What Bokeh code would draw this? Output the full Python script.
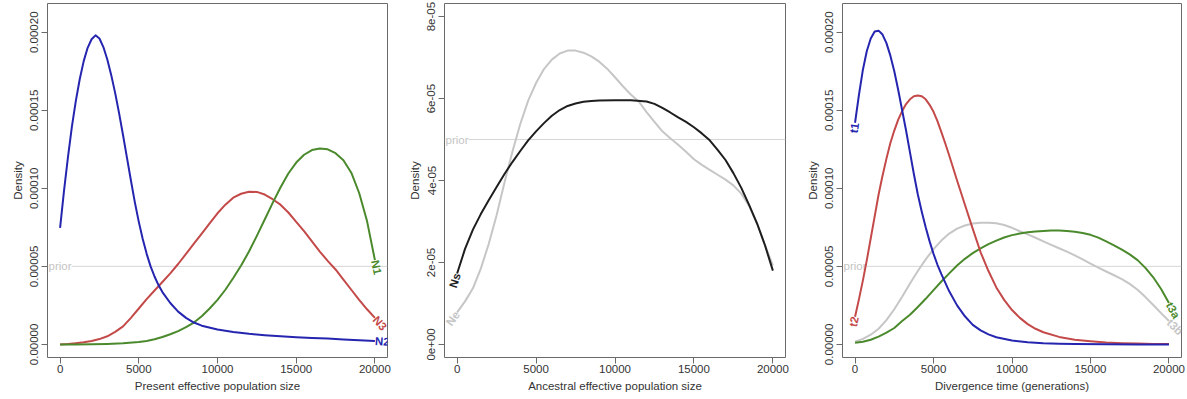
import math
from bokeh.plotting import figure
from bokeh.layouts import row
from bokeh.models import Range1d, FixedTicker, CustomJSTickFormatter, Span, Label, ColumnDataSource
from bokeh.core.properties import value
from bokeh.embed import file_html
from bokeh.resources import INLINE

S = 1e-5  # values below are in units of 1e-5
PRIOR = 5e-5

# ---------------- Panel 1: present effective population size ----------------
n2_x = [0, 250, 500, 750, 1000, 1250, 1500, 1750, 2000, 2250, 2500, 2750, 3000, 3250, 3500, 3750,
        4000, 4250, 4500, 4750, 5000, 5250, 5500, 5750, 6000, 6250, 6500, 7000, 7500, 8000, 8500,
        9000, 10000, 11000, 12000, 13000, 14000, 15000, 16000, 17000, 18000, 19000, 20000]
n2_y = [7.46, 9.85, 12.0, 13.95, 15.6, 17.0, 18.15, 19.0, 19.55, 19.8, 19.6, 19.05, 18.25, 17.25, 16.1, 14.8,
        13.4, 11.95, 10.5, 9.1, 7.85, 6.75, 5.8, 5.0, 4.35, 3.8, 3.35, 2.65, 2.1, 1.7, 1.4,
        1.2, 0.95, 0.8, 0.68, 0.59, 0.52, 0.46, 0.41, 0.37, 0.32, 0.27, 0.21]

n3_x = [0, 500, 1000, 1500, 2000, 2500, 3000, 3500, 4000, 4500, 5000, 5500, 6000, 6500, 7000, 7500,
        8000, 8500, 9000, 9500, 10000, 10500, 11000, 11500, 12000, 12500, 13000, 13500, 14000, 14500,
        15000, 15500, 16000, 16500, 17000, 17500, 18000, 18500, 19000, 19500, 20000]
n3_y = [0.0, 0.03, 0.08, 0.14, 0.22, 0.34, 0.52, 0.8, 1.15, 1.7, 2.3, 2.9, 3.45, 4.0, 4.55, 5.15,
        5.8, 6.45, 7.1, 7.75, 8.4, 8.95, 9.4, 9.65, 9.78, 9.77, 9.6, 9.3, 8.95, 8.45,
        7.85, 7.25, 6.6, 5.95, 5.35, 4.8, 4.15, 3.5, 2.85, 2.25, 1.7]

n1_x = [0, 1000, 2000, 3000, 4000, 5000, 5500, 6000, 6500, 7000, 7500, 8000, 8500, 9000, 9500, 10000,
        10500, 11000, 11500, 12000, 12500, 13000, 13500, 14000, 14500, 15000, 15500, 16000, 16500,
        17000, 17500, 18000, 18500, 19000, 19500, 20000]
n1_y = [0.0, 0.0, 0.01, 0.03, 0.07, 0.15, 0.22, 0.33, 0.47, 0.65, 0.85, 1.1, 1.4, 1.8, 2.3, 2.85,
        3.5, 4.25, 5.05, 5.95, 6.95, 8.0, 9.05, 10.05, 10.95, 11.65, 12.15, 12.45, 12.55,
        12.5, 12.25, 11.8, 11.0, 9.7, 7.9, 5.4]

# ---------------- Panel 2: ancestral effective population size ----------------
ns_x = [0, 500, 1000, 1500, 2000, 2500, 3000, 3500, 4000, 4500, 5000, 5500, 6000, 6500, 7000, 7500,
        8000, 8500, 9000, 10000, 11000, 12000, 12500, 13000, 13500, 14000, 14500, 15000, 15500,
        16000, 16500, 17000, 17500, 18000, 18500, 19000, 19500, 20000]
ns_y = [1.73, 2.33, 2.8, 3.18, 3.52, 3.84, 4.16, 4.45, 4.72, 4.98, 5.2, 5.4, 5.58, 5.72, 5.82, 5.88,
        5.92, 5.94, 5.95, 5.96, 5.96, 5.93, 5.87, 5.77, 5.66, 5.54, 5.43, 5.3, 5.15,
        4.98, 4.75, 4.5, 4.18, 3.82, 3.4, 2.95, 2.42, 1.8]

ne_x = [0, 500, 1000, 1500, 2000, 2500, 3000, 3500, 4000, 4500, 5000, 5500, 6000, 6500, 7000, 7500,
        8000, 8500, 9000, 9500, 10000, 10500, 11000, 11500, 12000, 12500, 13000, 13500, 14000, 14500,
        15000, 15500, 16000, 16500, 17000, 17500, 18000, 18500, 19000, 19500, 20000]
ne_y = [0.78, 1.05, 1.37, 1.85, 2.45, 3.15, 3.95, 4.7, 5.38, 5.95, 6.38, 6.72, 6.95, 7.1, 7.17, 7.17,
        7.12, 7.03, 6.9, 6.73, 6.52, 6.3, 6.1, 5.93, 5.67, 5.43, 5.2, 5.03, 4.87, 4.7,
        4.52, 4.38, 4.26, 4.14, 4.02, 3.88, 3.68, 3.38, 2.95, 2.42, 1.93]

# ---------------- Panel 3: divergence time ----------------
t1_x = [0, 250, 500, 750, 1000, 1250, 1500, 1750, 2000, 2250, 2500, 2750, 3000, 3250, 3500, 3750,
        4000, 4250, 4500, 4750, 5000, 5250, 5500, 6000, 6500, 7000, 7500, 8000, 8500, 9000, 10000,
        11000, 12000, 13000, 14000, 16000, 18000, 20000]
t1_y = [14.2, 16.0, 17.6, 18.8, 19.6, 20.05, 20.1, 19.85, 19.3, 18.5, 17.5, 16.3, 15.0, 13.7, 12.3, 10.9,
        9.6, 8.5, 7.5, 6.6, 5.8, 5.1, 4.5, 3.4, 2.5, 1.8, 1.25, 0.9, 0.64, 0.46, 0.25,
        0.13, 0.07, 0.04, 0.02, 0.01, 0.0, 0.0]

t2_x = [0, 250, 500, 750, 1000, 1250, 1500, 1750, 2000, 2250, 2500, 2750, 3000, 3250, 3500, 3750,
        4000, 4250, 4500, 4750, 5000, 5250, 5500, 5750, 6000, 6500, 7000, 7500, 8000, 8500, 9000, 9500,
        10000, 10500, 11000, 11500, 12000, 13000, 14000, 15000, 16000, 17000, 18000, 19000, 20000]
t2_y = [1.77, 2.9, 4.1, 5.4, 6.8, 8.2, 9.6, 10.8, 11.9, 12.9, 13.7, 14.4, 14.95, 15.4, 15.7, 15.9,
        15.95, 15.9, 15.7, 15.35, 14.9, 14.3, 13.6, 12.87, 12.1, 10.5, 8.95, 7.4, 5.9, 4.7, 3.65, 2.85,
        2.2, 1.7, 1.3, 1.0, 0.78, 0.48, 0.3, 0.2, 0.12, 0.08, 0.05, 0.03, 0.02]

t3b_x = [0, 500, 1000, 1500, 2000, 2500, 3000, 3500, 4000, 4500, 5000, 5500, 6000, 6500, 7000, 7500,
         8000, 8500, 9000, 9500, 10000, 10500, 11000, 11500, 12000, 12500, 13000, 13500, 14000, 14500,
         15000, 15500, 16000, 16500, 17000, 17500, 18000, 18500, 19000, 19500, 20000]
t3b_y = [0.17, 0.35, 0.62, 1.0, 1.55, 2.25, 3.05, 3.9, 4.7, 5.45, 6.1, 6.65, 7.1, 7.42, 7.62, 7.74,
         7.8, 7.8, 7.76, 7.65, 7.47, 7.25, 7.05, 6.83, 6.6, 6.38, 6.16, 5.94, 5.7, 5.45,
         5.18, 4.92, 4.67, 4.43, 4.18, 3.88, 3.5, 3.03, 2.52, 2.0, 1.5]

t3a_x = [0, 500, 1000, 1500, 2000, 2500, 3000, 3500, 4000, 4500, 5000, 5500, 6000, 6500, 7000, 7500,
         8000, 8500, 9000, 9500, 10000, 10500, 11000, 11500, 12000, 12500, 13000, 13500, 14000, 14500,
         15000, 15500, 16000, 16500, 17000, 17500, 18000, 18500, 19000, 19500, 20000]
t3a_y = [0.1, 0.17, 0.3, 0.5, 0.75, 1.05, 1.5, 1.9, 2.4, 2.92, 3.48, 4.03, 4.55, 5.05, 5.48, 5.85,
         6.15, 6.42, 6.65, 6.85, 7.0, 7.1, 7.18, 7.24, 7.27, 7.29, 7.29, 7.27, 7.22, 7.14,
         7.02, 6.84, 6.6, 6.35, 6.07, 5.77, 5.4, 4.9, 4.3, 3.55, 2.65]

x_ticks = [0, 5000, 10000, 15000, 20000]
y_ticks_a = [0, 5e-5, 1e-4, 1.5e-4, 2e-4]
y_ticks_b = [0, 2e-5, 4e-5, 6e-5, 8e-5]

BLUE = "#2525b0"
RED = "#c44a4a"
GREEN = "#4b8a2c"
GRAY = "#c6c6c6"
BLACK = "#1e1e1e"
AXC = "#6a6a6a"
TXT = "#333333"
FONT = "Liberation Sans"

H = 399
TOP = 3
BOT = 42
XR = (-800, 20800)
YR_A = (-0.0000084, 0.0002184)
YR_B = (-0.0000032, 0.0000832)

FMT_FIXED = CustomJSTickFormatter(code="return tick.toFixed(5);")
FMT_EXP = CustomJSTickFormatter(code="""
if (tick == 0) return "0e+00";
var e = Math.floor(Math.log10(Math.abs(tick)) + 1e-9);
var m = Math.round(tick / Math.pow(10, e));
var a = Math.abs(e);
return m + "e" + (e < 0 ? "-" : "+") + (a < 10 ? "0" : "") + a;
""")


def make_fig(width, left, right, yr, yticks, fmt, xlabel):
    p = figure(width=width, height=H, x_range=Range1d(*XR), y_range=Range1d(*yr),
               output_backend="svg", toolbar_location=None,
               min_border_left=left, min_border_right=right, min_border_top=TOP, min_border_bottom=BOT)
    p.grid.visible = False
    p.outline_line_color = AXC
    p.outline_line_width = 1
    p.background_fill_color = "white"
    p.border_fill_color = "white"
    for ax in (p.xaxis[0], p.yaxis[0]):
        ax.axis_line_color = None
        ax.major_tick_line_color = AXC
        ax.major_tick_out = 6
        ax.major_tick_in = 0
        ax.minor_tick_line_color = None
        ax.major_label_text_font = FONT
        ax.major_label_text_font_size = "11.5px"
        ax.major_label_text_color = TXT
        ax.axis_label_text_font = FONT
        ax.axis_label_text_font_size = "11.5px"
        ax.axis_label_text_font_style = "normal"
        ax.axis_label_text_color = TXT
        ax.axis_label_standoff = 4
    p.xaxis.major_label_standoff = 1
    p.yaxis.major_label_standoff = 3
    p.xaxis.ticker = FixedTicker(ticks=x_ticks)
    p.yaxis.ticker = FixedTicker(ticks=yticks)
    p.yaxis.formatter = fmt
    p.yaxis.major_label_orientation = "vertical"
    p.xaxis.axis_label = xlabel
    p.yaxis.axis_label = "Density"

    span = Span(location=PRIOR, dimension="width", line_color="#d6d6d6", line_width=1, level="underlay")
    p.add_layout(span)
    lab = Label(x=XR[0], y=PRIOR, text="prior", text_align="left", text_baseline="middle",
                x_offset=1, text_color="#c4c4c4", text_font=FONT, text_font_size="11.5px",
                background_fill_color="white", level="underlay")
    p.add_layout(lab)
    p._frame = (width - left - right, H - TOP - BOT)
    return p


def curve(p, xs, ys, color, label, at_end, yr, width=2):
    yv = [v * S for v in ys]
    p.line(xs, yv, line_color=color, line_width=width, line_join="round")
    fw, fh = p._frame
    kx = fw / (XR[1] - XR[0])
    ky = fh / (yr[1] - yr[0])
    if at_end:
        i0, i1 = -2, -1
        align = "left"
        xa, ya = xs[-1], yv[-1]
    else:
        i0, i1 = 0, 1
        align = "right"
        xa, ya = xs[0], yv[0]
    ang = math.atan2((yv[i1] - yv[i0]) * ky, (xs[i1] - xs[i0]) * kx)
    src = ColumnDataSource(dict(x=[xa], y=[ya], t=[label], a=[ang]))
    p.text(x="x", y="y", text="t", angle="a", source=src, text_color=color,
           text_font=value(FONT), text_font_size="11.5px", text_font_style="bold",
           text_align=align, text_baseline="middle")


p1 = make_fig(395, 47, 8, YR_A, y_ticks_a, FMT_FIXED, "Present effective population size")
curve(p1, n3_x, n3_y, RED, "N3", True, YR_A)
curve(p1, n1_x, n1_y, GREEN, "N1", True, YR_A)
curve(p1, n2_x, n2_y, BLUE, "N2", True, YR_A)

p2 = make_fig(395, 49, 5, YR_B, y_ticks_b, FMT_EXP, "Ancestral effective population size")
curve(p2, ne_x, ne_y, GRAY, "Ne", False, YR_B)
curve(p2, ns_x, ns_y, BLACK, "Ns", False, YR_B)

p3 = make_fig(396, 52, 5, YR_A, y_ticks_a, FMT_FIXED, "Divergence time (generations)")
curve(p3, t3b_x, t3b_y, GRAY, "t3b", True, YR_A)
curve(p3, t3a_x, t3a_y, GREEN, "t3a", True, YR_A)
curve(p3, t2_x, t2_y, RED, "t2", False, YR_A)
curve(p3, t1_x, t1_y, BLUE, "t1", False, YR_A)

layout = row(p1, p2, p3, spacing=0)
open("out.html", "w").write(file_html(layout, INLINE))
